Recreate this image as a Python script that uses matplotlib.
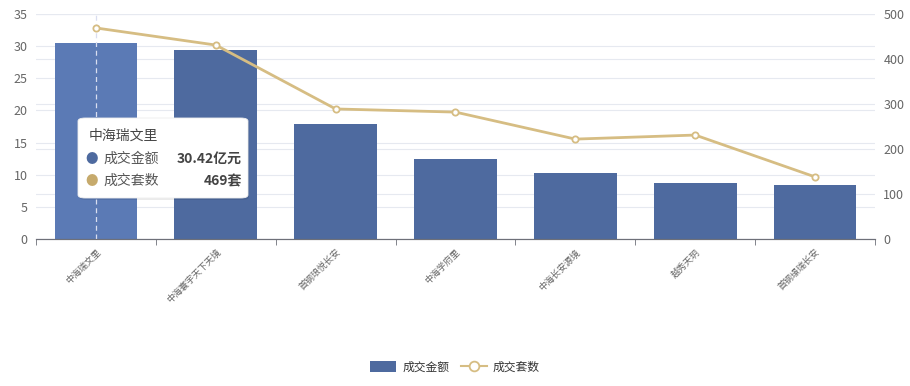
import numpy as np
import matplotlib.pyplot as plt
from matplotlib.patches import FancyBboxPatch
from matplotlib.lines import Line2D
from matplotlib.patches import Patch

plt.rcParams['font.family'] = ['Noto Sans CJK SC', 'DejaVu Sans']

projects = ['中海瑞文里', '中海寰宇天下天境', '首钢琅悦长安', '中海学府里', '中海长安源境', '越秀天玥', '首钢璟瑞长安']
amount = [30.42, 29.4, 17.9, 12.4, 10.3, 8.7, 8.4]   # 亿元
units = [469, 431, 289, 282, 222, 231, 138]          # 套

bar_color = '#4e6a9f'
hi_color = '#5b7ab5'
line_color = '#d6bd83'
grid_color = '#e6e9f0'
text_color = '#666666'

fig = plt.figure(figsize=(9.1, 3.86), dpi=100)
ax = fig.add_axes([36 / 910, 1 - 239 / 386, 839 / 910, 225 / 386])
ax2 = ax.twinx()

x = np.arange(len(projects))
colors = [hi_color] + [bar_color] * (len(projects) - 1)
ax.bar(x, amount, width=0.69, color=colors, zorder=2)
ax.set_xlim(-0.5, len(projects) - 0.5)
ax.set_ylim(0, 35)
ax.set_yticks(np.arange(0, 36, 5))
ax.grid(axis='y', color=grid_color, lw=0.8, zorder=0)
ax.set_axisbelow(True)

ax2.plot(x, units, color=line_color, lw=2, marker='o', ms=4.5,
         mfc='white', mec=line_color, mew=1.3, zorder=5)
ax2.set_ylim(0, 500)
ax2.set_yticks(np.arange(0, 501, 100))

# right-axis gridlines drawn behind the bars
for t in ax2.get_yticks():
    ax.axhline(t * 35 / 500, color=grid_color, lw=0.8, zorder=0)

for a in (ax, ax2):
    for s in ('top', 'right', 'left'):
        a.spines[s].set_visible(False)
    a.spines['bottom'].set_color('#6e7079')
    a.tick_params(axis='y', length=0, labelsize=9, labelcolor=text_color, pad=6)

ax.set_xticks(x)
ax.set_xticklabels(projects, rotation=45, ha='right', rotation_mode='anchor',
                   fontsize=6.5, color=text_color)
ax.tick_params(axis='x', length=0, pad=6)
ax.set_xticks(np.arange(-0.5, len(projects)), minor=True)
ax.tick_params(axis='x', which='minor', length=4, color='#6e7079')

# axis pointer on the first category
ax.axvline(0, color='#d9def0', lw=0.9, ls=(0, (4, 3)), zorder=3)

# tooltip
shadow = FancyBboxPatch((79 / 910, 1 - 200 / 386), 170 / 910, 80 / 386,
                        boxstyle='round,pad=0,rounding_size=0.008',
                        transform=fig.transFigure, fc='#000000', alpha=0.08,
                        ec='none', zorder=9)
fig.patches.append(shadow)
tip = FancyBboxPatch((78 / 910, 1 - 198 / 386), 170 / 910, 80 / 386,
                     boxstyle='round,pad=0,rounding_size=0.008',
                     transform=fig.transFigure, fc='white', ec='#eeeeee', lw=0.6,
                     zorder=10)
fig.patches.append(tip)
fig.text(89 / 910, 1 - 136 / 386, projects[0], fontsize=10, color='#444444',
         va='center', zorder=11)
rows = [(bar_color, '成交金额', f'{amount[0]:.2f}亿元', 159),
        ('#c6aa6c', '成交套数', f'{units[0]}套', 181)]
for c, name, val, yy in rows:
    fig.text(92 / 910, 1 - yy / 386, '●', fontsize=9, color=c, ha='center',
             va='center', zorder=11)
    fig.text(103 / 910, 1 - yy / 386, name, fontsize=10, color='#555555',
             va='center', zorder=11)
    fig.text(242 / 910, 1 - yy / 386, val, fontsize=10, color='#444444',
             fontweight='bold', ha='right', va='center', zorder=11)

handles = [Patch(facecolor=bar_color, edgecolor='none'),
           Line2D([], [], color=line_color, lw=1.5, marker='o', ms=7,
                  mfc='white', mec=line_color, mew=1.3)]
fig.legend(handles, ['成交金额', '成交套数'], loc='center', ncol=2,
           bbox_to_anchor=(0.5, 1 - 367 / 386), frameon=False, fontsize=8.5,
           handlelength=2.2, handleheight=1.0, columnspacing=1.0, handletextpad=0.5,
           labelcolor='#333333')

fig.savefig('out.png', dpi=100)
